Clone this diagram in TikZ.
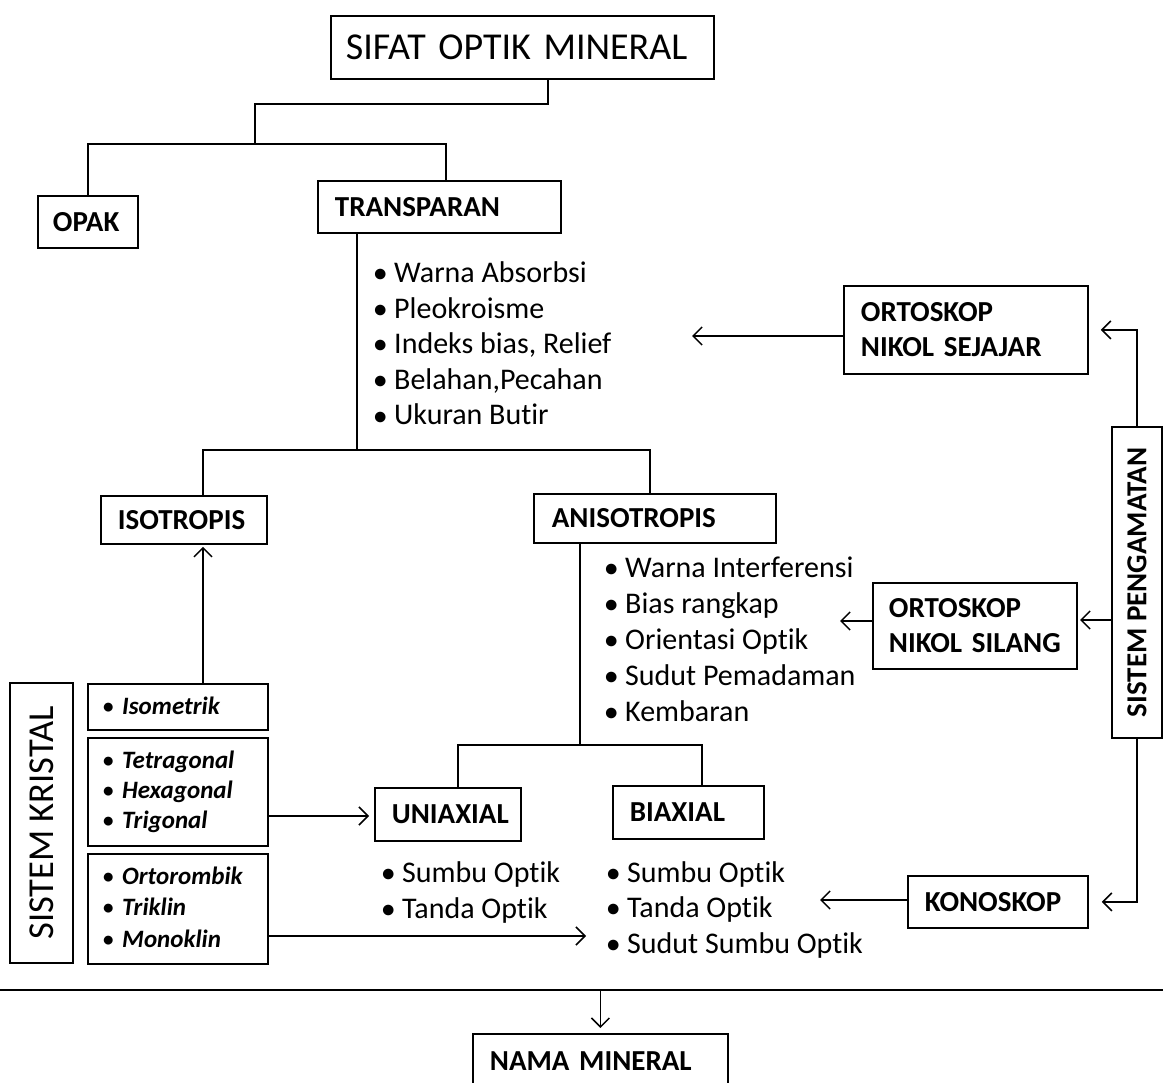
\documentclass[tikz,border=0pt]{standalone}
\usepackage{fontspec}
\setmainfont{Carlito}[Ligatures={NoCommon}]
\usetikzlibrary{arrows.meta}
\newcommand{\blt}[2]{\makebox[#1][l]{\hspace{2pt}\raisebox{1pt}{\fontsize{#2}{#2}\selectfont\upshape\bfseries •}}}
\begin{document}
\begin{tikzpicture}[x=1pt,y=-1pt,
 box/.style={draw, line width=1.8pt, anchor=north west, inner ysep=0pt, align=left, font=\fontsize{29}{35}\selectfont\bfseries},
 rbox/.style={draw, line width=1.8pt, inner sep=0pt, rotate=90},
 ln/.style={line width=1.5pt},
 arr/.style={line width=1.5pt, -{Straight Barb[length=9pt,width=18pt,line width=1.5pt]}},
 bul/.style={anchor=base west, inner sep=0pt, font=\fontsize{30}{36}\selectfont},
 cry/.style={anchor=base west, inner sep=0pt, font=\fontsize{25}{30}\selectfont\bfseries\itshape}]
\fill[white] (0,0) rectangle (1163,1083);
\useasboundingbox (0,0) rectangle (1163,1083);

% boxes
\node[box, minimum height=63pt, text width=353pt, inner xsep=15pt, font=\fontsize{38}{44}\selectfont] (title) at (330,15) {SIFAT OPTIK MINERAL};
\node[box, minimum height=52pt, text width=70pt, inner xsep=15pt] (opak) at (37,195) {OPAK};
\node[box, minimum height=52pt, text width=209pt, inner xsep=17pt] (trans) at (317,180) {TRANSPARAN};
\node[box, minimum height=48pt, text width=132pt, inner xsep=17pt] (isot) at (100,495) {ISOTROPIS};
\node[box, minimum height=49pt, text width=206pt, inner xsep=18pt] (aniso) at (533,493) {ANISOTROPIS};
\node[box, minimum height=53pt, text width=112pt, inner xsep=17pt] (unia) at (374,787) {UNIAXIAL};
\node[box, minimum height=53pt, text width=117pt, inner xsep=17pt] (biax) at (612,785) {BIAXIAL};
\node[box, minimum height=88pt, text width=210pt, inner xsep=17pt] (nsej) at (843,285) {ORTOSKOP\\NIKOL SEJAJAR};
\node[box, minimum height=86pt, text width=172pt, inner xsep=16pt] (nsil) at (872,582) {ORTOSKOP\\NIKOL SILANG};
\node[box, minimum height=52pt, text width=146pt, inner xsep=17pt] (kono) at (907,875) {KONOSKOP};
\node[box, minimum height=54pt, text width=221pt, inner xsep=17pt] (nama) at (472,1033) {NAMA MINERAL};

\node[rbox, minimum width=280pt, minimum height=63pt, font=\fontsize{36.5}{40}\selectfont] (sk) at (41.5,823) {SISTEM KRISTAL};
\node[rbox, minimum width=311pt, minimum height=50pt, font=\fontsize{29}{35}\selectfont\bfseries] (sp) at (1137,582.5) {SISTEM PENGAMATAN};

\node[draw, line width=1.8pt, anchor=north west, inner sep=0pt, minimum width=180pt, minimum height=46pt] (isom) at (87,683) {};
\node[draw, line width=1.8pt, anchor=north west, inner sep=0pt, minimum width=180pt, minimum height=108pt] (tetra) at (87,737) {};
\node[draw, line width=1.8pt, anchor=north west, inner sep=0pt, minimum width=180pt, minimum height=110pt] (orto) at (87,853) {};

% lists
\foreach \t [count=\i] in {Warna Absorbsi, Pleokroisme, {Indeks bias, Relief}, {Belahan,Pecahan}, Ukuran Butir}
  \node[bul] (la\i) at (372,{283+35.5*(\i-1)}) {\blt{22pt}{25}\t};
\foreach \t [count=\i] in {Warna Interferensi, Bias rangkap, Orientasi Optik, Sudut Pemadaman, Kembaran}
  \node[bul] (lb\i) at (603,{577+36*(\i-1)}) {\blt{22pt}{25}\t};
\foreach \t [count=\i] in {Sumbu Optik, Tanda Optik}
  \node[bul] (lc\i) at (380,{882+36*(\i-1)}) {\blt{22pt}{25}\t};
\foreach \t [count=\i] in {Sumbu Optik, Tanda Optik, Sudut Sumbu Optik}
  \node[bul] (ld\i) at (605,{882+35.5*(\i-1)}) {\blt{22pt}{25}\t};
\node[cry] (ca1) at (101,714) {\blt{21pt}{21}Isometrik};
\foreach \t [count=\i] in {Tetragonal, Hexagonal, Trigonal}
  \node[cry] (cb\i) at (101,{768+30*(\i-1)}) {\blt{21pt}{21}\t};
\foreach \t [count=\i] in {Ortorombik, Triklin, Monoklin}
  \node[cry] (cc\i) at (101,{884+31.5*(\i-1)}) {\blt{21pt}{21}\t};

% tree connectors
\coordinate (a1) at (548,104);
\coordinate (a2) at (255,144);
\coordinate (b1) at (446,144);
\draw[ln] (title.south -| a1) -- (a1) -| (a2);
\draw[ln] (opak.north) |- (b1) -- (b1 |- trans.north);
\coordinate (c1) at (357,450);
\coordinate (c2) at (203,450);
\coordinate (c3) at (650,450);
\draw[ln] (c1 |- trans.south) -- (c1);
\draw[ln] (c2 |- isot.north) |- (c3) -- (c3 |- aniso.north);
\coordinate (d1) at (580,745);
\coordinate (d2) at (458,745);
\coordinate (d3) at (702,745);
\draw[ln] (d1 |- aniso.south) -- (d1);
\draw[ln] (d2 |- unia.north) |- (d3) -- (d3 |- biax.north);

% observation system arrows
\coordinate (t1) at (692,336);
\coordinate (t2) at (840,621);
\coordinate (t3) at (820,900);
\coordinate (t4) at (1080,620);
\draw[arr, shorten >=12pt] (sp.east) |- (nsej.east);
\draw[arr] (sp.north |- t4) -- (t4);
\draw[arr, shorten >=13pt] (sp.west) |- (kono.east);
\draw[arr] (nsej.west |- t1) -- (t1);
\draw[arr] (nsil.west |- t2) -- (t2);
\draw[arr] (kono.west |- t3) -- (t3);

% crystal system arrows
\coordinate (k1) at (0,816);
\coordinate (k2) at (586,936);
\draw[arr, shorten >=2pt] (isom.north -| c2) -- (isot.south -| c2);
\draw[arr, shorten >=5pt] (tetra.east |- k1) -- (unia.west |- k1);
\draw[arr] (orto.east |- k2) -- (k2);

% bottom
\coordinate (h1) at (0,990);
\coordinate (h2) at (1163,990);
\draw[ln] (h1) -- (h2);
\draw[arr, shorten >=5pt] (nama.north |- h1) -- (nama.north);
\end{tikzpicture}
\end{document}
